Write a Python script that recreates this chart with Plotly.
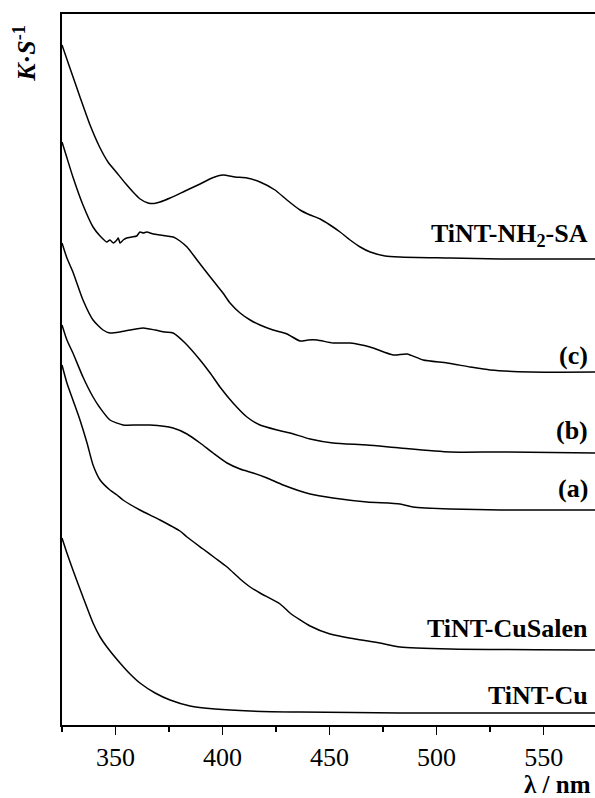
import plotly.graph_objects as go

# Wavelength (nm) and K·S^-1 (arbitrary units, stacked/offset as in the figure)
wl_nh2sa = [325, 328.7, 333.4, 338.1, 342.8, 346.5, 350.7, 354.5, 358.2, 361.5, 365.2, 368.0, 370.8,
            375.5, 382.5, 389.5, 395.1, 400.2, 405.8, 411.4, 417.5, 424.5, 430.1, 436.2, 440.9, 445.6,
            450.2, 454.9, 459.6, 464.3, 469.0, 476.0, 482.9, 506.3, 529.7, 574]
ks_nh2sa = [6.80, 6.57, 6.28, 6.00, 5.77, 5.63, 5.52, 5.42, 5.33, 5.26, 5.22, 5.215, 5.23,
            5.27, 5.34, 5.41, 5.47, 5.50, 5.48, 5.47, 5.43, 5.35, 5.25, 5.15, 5.10, 5.06,
            5.00, 4.93, 4.85, 4.78, 4.73, 4.69, 4.68, 4.67, 4.66, 4.66]

wl_c = [325, 326.9, 330.1, 334.8, 339.5, 342.8, 345.9, 347.4, 349.0, 350.6, 351.3, 352.1, 353.6, 355.2,
        357.6, 359.9, 361.4, 363.0, 364.6, 367.7, 370.8, 373.9, 377.0, 380.1, 383.4, 388.1, 392.8,
        396.5, 400.2, 403.5, 408.2, 412.9, 417.5, 423.6, 430.1, 436.2, 440.0, 444.2, 451.6, 459.6,
        468.9, 479.7, 486.2, 493.7, 504.9, 515.7, 525.0, 543.7, 574]
ks_c = [5.83, 5.70, 5.48, 5.20, 4.98, 4.89, 4.83, 4.85, 4.82, 4.85, 4.87, 4.82, 4.85, 4.87,
        4.88, 4.89, 4.93, 4.92, 4.93, 4.91, 4.90, 4.89, 4.88, 4.84, 4.78, 4.65, 4.52,
        4.42, 4.32, 4.22, 4.12, 4.05, 4.00, 3.95, 3.91, 3.84, 3.85, 3.85, 3.82, 3.82,
        3.78, 3.70, 3.71, 3.65, 3.62, 3.58, 3.55, 3.53, 3.53]

wl_b = [325, 327.3, 330.1, 334.8, 339.5, 344.2, 347.4, 352.1, 356.8, 362.9, 368.5, 373.1, 376.9,
        382.5, 389.5, 394.2, 398.8, 404.9, 411.4, 417.5, 425.5, 431.5, 440.9, 451.6, 467.5,
        482.9, 506.3, 529.7, 574]
ks_b = [4.82, 4.67, 4.53, 4.25, 4.05, 3.95, 3.92, 3.93, 3.95, 3.97, 3.95, 3.93, 3.92,
        3.82, 3.65, 3.52, 3.38, 3.22, 3.08, 3.00, 2.95, 2.92, 2.86, 2.82, 2.80,
        2.77, 2.73, 2.73, 2.72]

wl_a = [325, 327.3, 330.1, 334.8, 339.5, 342.8, 347.4, 353.5, 360.0, 366.1, 376.9, 383.4, 389.5,
        395.6, 402.1, 408.2, 414.3, 420.8, 428.3, 440.9, 451.6, 467.5, 482.9, 489.0, 506.3,
        529.7, 574]
ks_a = [4.00, 3.85, 3.72, 3.48, 3.28, 3.17, 3.05, 3.00, 3.00, 3.00, 2.97, 2.91, 2.82,
        2.72, 2.62, 2.56, 2.52, 2.47, 2.40, 2.31, 2.27, 2.23, 2.21, 2.18, 2.16,
        2.15, 2.15]

wl_cusalen = [325, 327.3, 330.1, 333.4, 336.7, 339.5, 342.8, 347.4, 350.7, 353.5, 361.4, 370.8,
              380.1, 383.4, 390.9, 396.5, 402.1, 408.2, 412.9, 417.5, 426.9, 431.5, 440.9, 450.2,
              461.9, 473.6, 482.9, 506.3, 574]
ks_cusalen = [3.60, 3.42, 3.25, 3.05, 2.82, 2.60, 2.45, 2.35, 2.30, 2.25, 2.15, 2.05,
              1.94, 1.88, 1.76, 1.67, 1.58, 1.46, 1.38, 1.32, 1.21, 1.12, 0.99, 0.91,
              0.86, 0.82, 0.78, 0.76, 0.75]

wl_cu = [325, 327.3, 330.1, 334.8, 339.5, 342.8, 346.0, 352.1, 356.8, 361.4, 368.5, 375.5,
         384.8, 396.5, 412.9, 436.2, 482.9, 574]
ks_cu = [1.87, 1.72, 1.55, 1.28, 1.02, 0.88, 0.78, 0.62, 0.51, 0.42, 0.32, 0.25,
         0.19, 0.16, 0.14, 0.13, 0.12, 0.12]

series = [
    (wl_nh2sa, ks_nh2sa, "TiNT-NH<sub>2</sub>-SA", 4.90),
    (wl_c, ks_c, "(c)", 3.70),
    (wl_b, ks_b, "(b)", 2.95),
    (wl_a, ks_a, "(a)", 2.37),
    (wl_cusalen, ks_cusalen, "TiNT-CuSalen", 0.97),
    (wl_cu, ks_cu, "TiNT-Cu", 0.30),
]

x_ticks = [350, 400, 450, 500, 550]

FONT = "Liberation Serif, Times New Roman, serif"

fig = go.Figure()
for wl, ks, name, _ in series:
    fig.add_trace(go.Scatter(x=wl, y=ks, mode="lines", name=name,
                             line=dict(color="black", width=1.5, shape="spline", smoothing=0.6),
                             showlegend=False, hoverinfo="skip"))

for _, _, name, ypos in series:
    fig.add_annotation(x=571.5, y=ypos, xref="x", yref="y", text="<b>" + name + "</b>",
                       showarrow=False, xanchor="right", yanchor="middle",
                       font=dict(family=FONT, size=26, color="black"))

fig.add_annotation(x=0.997, y=-0.083, xref="paper", yref="paper", text="<b>λ / nm</b>",
                   showarrow=False, xanchor="right", yanchor="middle",
                   font=dict(family=FONT, size=25, color="black"))
fig.add_annotation(x=-0.07, y=0.945, xref="paper", yref="paper",
                   text="<b><i>K</i>·<i>S</i><sup>-1</sup></b>", textangle=-90,
                   showarrow=False, xanchor="center", yanchor="middle",
                   font=dict(family=FONT, size=26, color="black"))

fig.update_xaxes(range=[325, 574], tickvals=x_ticks, ticktext=[str(v) for v in x_ticks],
                 ticks="outside", ticklen=8, tickwidth=1.5, tickcolor="black",
                 minor=dict(dtick=25, tick0=325, ticks="outside", ticklen=5, tickwidth=1.5, tickcolor="black"),
                 showline=True, linecolor="black", linewidth=2, mirror=True,
                 showgrid=False, zeroline=False,
                 tickfont=dict(family=FONT, size=26, color="black"))
fig.update_yaxes(range=[0, 7.11], showticklabels=False, ticks="",
                 showline=True, linecolor="black", linewidth=2,
                 showgrid=False, zeroline=False)

fig.update_layout(width=595, height=798, margin=dict(l=62, r=0, t=14, b=73),
                  paper_bgcolor="white", plot_bgcolor="white", hovermode=False)

fig.write_html("out.html", config={"displayModeBar": False, "staticPlot": True},
               post_script="document.body.style.margin='0';document.body.style.overflow='hidden';")
